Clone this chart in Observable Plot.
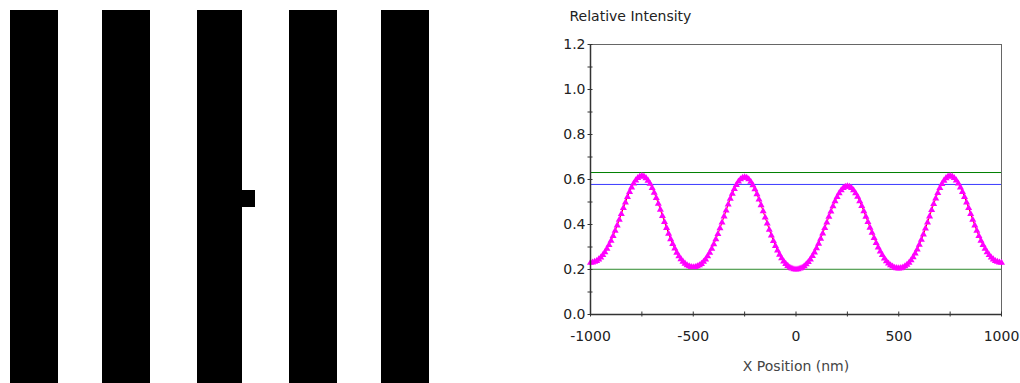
<!DOCTYPE html>
<html><head><meta charset="utf-8">
<script src="https://cdn.jsdelivr.net/npm/d3@7"></script>
<script src="https://cdn.jsdelivr.net/npm/@observablehq/plot@0.6"></script>
<style>
html,body{margin:0;padding:0;background:#fff;}
#wrap{display:flex;width:1020px;height:383px;overflow:hidden;}
svg{overflow:visible;display:block}
</style></head><body><div id="wrap"></div>
<script>
// ---- Mask pattern (nm) ----
const maskBarLeft  = [-1130, -635, -120, 375, 870];
const maskBarRight = [-870, -375, 120, 635, 1130];
const maskYBottom = -1000, maskYTop = 1000;
const defectX = [120, 190];
const defectY = [-55, 35];

// ---- Intensity profile ----
const xStart = -1000, xStep = 10;
const intensity = [
0.230,0.231,0.234,0.238,0.245,0.253,0.264,0.277,0.292,0.309,0.328,0.349,0.372,0.396,0.421,0.447,0.473,0.498,0.522,0.545,0.565,0.582,0.596,0.607,0.613,0.615,
0.613,0.606,0.595,0.581,0.562,0.541,0.518,0.492,0.466,0.438,0.411,0.385,0.359,0.335,0.313,0.293,0.275,0.259,0.246,0.235,0.226,0.219,0.214,0.211,0.210,
0.211,0.214,0.219,0.225,0.234,0.245,0.259,0.274,0.292,0.312,0.334,0.358,0.383,0.409,0.436,0.462,0.489,0.514,0.537,0.558,0.576,0.591,0.601,0.608,0.610,
0.608,0.601,0.590,0.575,0.557,0.535,0.511,0.486,0.459,0.431,0.404,0.377,0.351,0.327,0.305,0.284,0.266,0.250,0.236,0.225,0.216,0.209,0.204,0.201,0.200,
0.201,0.204,0.208,0.214,0.223,0.233,0.245,0.260,0.276,0.294,0.315,0.337,0.360,0.384,0.409,0.434,0.458,0.481,0.503,0.522,0.539,0.552,0.562,0.568,0.570,
0.568,0.562,0.552,0.539,0.523,0.503,0.482,0.459,0.435,0.411,0.386,0.363,0.340,0.318,0.298,0.280,0.264,0.249,0.237,0.227,0.219,0.213,0.208,0.206,0.205,
0.206,0.209,0.214,0.221,0.230,0.241,0.255,0.271,0.289,0.310,0.332,0.356,0.382,0.409,0.436,0.464,0.491,0.516,0.540,0.562,0.580,0.595,0.606,0.613,0.615,
0.613,0.607,0.596,0.582,0.565,0.545,0.522,0.498,0.473,0.447,0.421,0.396,0.372,0.349,0.328,0.309,0.292,0.277,0.264,0.253,0.245,0.238,0.234,0.231,0.230
];
const refLineValues = [0.631, 0.578, 0.201];
const refLineColors = ["#008000", "#3a3aff", "#2e8b2e"];
const xTicksMajor = [-1000, -500, 0, 500, 1000];
const xTicksAll = [-1000, -750, -500, -250, 0, 250, 500, 750, 1000];
const yTicksMajor = [0, 0.2, 0.4, 0.6, 0.8, 1.0, 1.2];
const yTicksAll = [0, 0.1, 0.2, 0.3, 0.4, 0.5, 0.6, 0.7, 0.8, 0.9, 1.0, 1.1, 1.2];
const yTitle = "Relative Intensity";
const xTitle = "X Position (nm)";

const wrap = document.getElementById("wrap");

// Left: mask
const bars = maskBarLeft.map((l, i) => ({x1: l, x2: maskBarRight[i], y1: maskYBottom, y2: maskYTop}));
bars.push({x1: defectX[0], x2: defectX[1], y1: defectY[0], y2: defectY[1]});
const mask = Plot.plot({
  width: 460, height: 383,
  margin: 0,
  x: {domain: [-1000, 1000], range: [34, 405], axis: null},
  y: {domain: [-1000, 1000], range: [383, 10], axis: null},
  marks: [
    Plot.rect(bars, {x1: "x1", x2: "x2", y1: "y1", y2: "y2", fill: "black", shapeRendering: "crispEdges"})
  ]
});
wrap.appendChild(mask);

// Right: intensity chart
const pts = intensity.map((v, i) => ({x: xStart + i * xStep, y: v}));
const chart = Plot.plot({
  width: 560, height: 383,
  marginLeft: 130, marginRight: 19, marginTop: 44, marginBottom: 69,
  style: {fontFamily: "'DejaVu Sans', sans-serif", fontSize: "14px", color: "#222", background: "white"},
  x: {domain: [-1000, 1000], label: null},
  y: {domain: [0, 1.2], label: null},
  marks: [
    Plot.frame({stroke: "#666"}),
    ...refLineValues.map((v, i) => Plot.ruleY([v], {stroke: refLineColors[i], strokeWidth: 1})),
    Plot.line(pts, {x: "x", y: "y", stroke: "red", strokeWidth: 1}),
    Plot.dot(pts, {x: "x", y: "y", symbol: "triangle", r: 2.6, fill: "#ff00ff", stroke: "none"}),
    Plot.ruleY([0], {stroke: "#333", strokeWidth: 1.5}),
    Plot.ruleX([-1000], {stroke: "#333", strokeWidth: 1.5}),
    Plot.axisX({ticks: xTicksAll, tickSize: 5, dy: -2.5, tickFormat: () => "", stroke: "#333"}),
    Plot.axisX({ticks: xTicksMajor, tickSize: 0, tickPadding: 17, tickFormat: d => String(d)}),
    Plot.axisY({ticks: yTicksAll, tickSize: 5, dx: 2.5, tickFormat: () => "", stroke: "#333"}),
    Plot.axisY({ticks: yTicksMajor, tickSize: 0, tickPadding: 5, tickFormat: d3.format(".1f")}),
    Plot.text([yTitle], {frameAnchor: "top-left", dx: -21, dy: -33, textAnchor: "start", fill: "#222"}),
    Plot.text([xTitle], {frameAnchor: "bottom", dy: 56, fill: "#444"})
  ]
});
wrap.appendChild(chart);
</script></body></html>
